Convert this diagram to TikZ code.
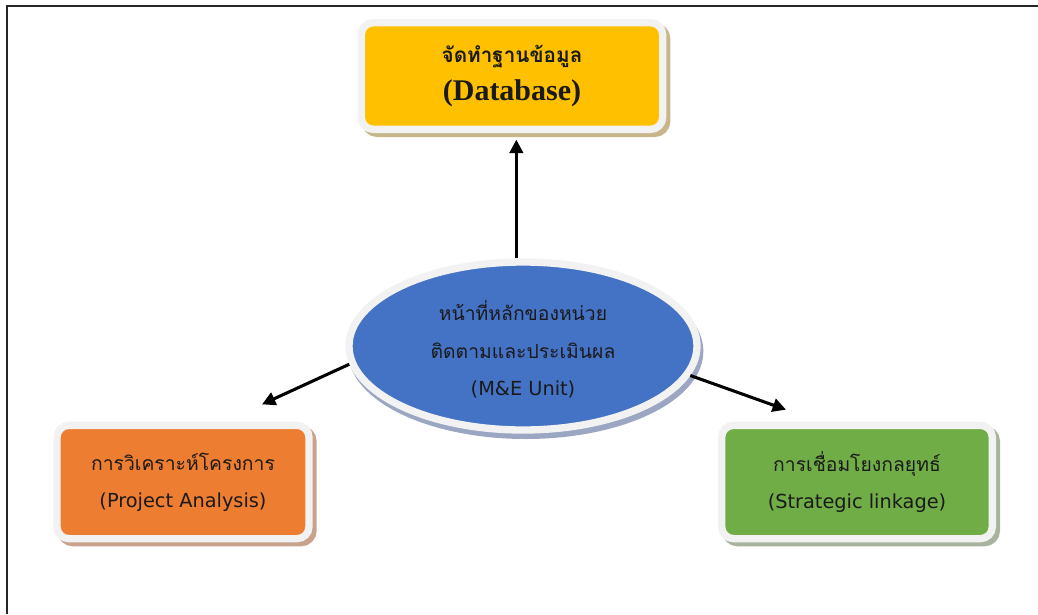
\documentclass[tikz,border=0pt]{standalone}
\usepackage{fontspec}
\setmainfont{Liberation Serif}
\newfontfamily\thaifont[Script=Thai]{Loma}
\newfontfamily\latinfont{DejaVu Sans}
\usetikzlibrary{arrows.meta,shadows,calc,shapes.geometric}
\definecolor{dbyellow}{HTML}{FFC000}
\definecolor{dbshadow}{HTML}{C6B68A}
\definecolor{meblue}{HTML}{4472C4}
\definecolor{meshadow}{HTML}{9AA6C2}
\definecolor{paorange}{HTML}{ED7D31}
\definecolor{pashadow}{HTML}{C8A28A}
\definecolor{slgreen}{HTML}{70AD47}
\definecolor{slshadow}{HTML}{A8B39E}
\definecolor{rim}{HTML}{F2F2F2}
\definecolor{ink}{HTML}{1A1A1A}

\begin{document}
\begin{tikzpicture}[x=0.75pt,y=-0.75pt,
  box/.style={draw=rim,line width=5.5pt,rounded corners=9pt,align=center,
    text=ink,font=\thaifont\fontsize{14.5}{28}\selectfont,inner sep=0pt},
  arr/.style={line width=2.3pt,-{Triangle[length=10pt,width=10pt]}}]
\useasboundingbox (0,0) rectangle (1038,614);
\draw[line width=1.6pt,black!85] (7,614) -- (7,6) -- (1038,6);

\node[box,fill=dbyellow,minimum width=226pt,minimum height=80pt,
  drop shadow={shadow xshift=3pt,shadow yshift=-3pt,fill=dbshadow,draw=dbshadow,opacity=1}]
  (db) at (512,76) {{\bfseries\fontsize{15.5}{28}\selectfont จัดทำฐานข้อมูล}\\
  {\rmfamily\bfseries\fontsize{22.5}{28}\selectfont (Database)}};

\node[box,ellipse,fill=meblue,minimum width=261pt,minimum height=126pt,
  drop shadow={shadow xshift=2pt,shadow yshift=-4pt,fill=meshadow,draw=meshadow,opacity=1}]
  (me) at (523,346) {\\[-8pt]หน้าที่หลักของหน่วย\\ติดตามและประเมินผล\\{\latinfont (M\&E Unit)}};

\node[box,fill=paorange,minimum width=189pt,minimum height=85pt,
  drop shadow={shadow xshift=3pt,shadow yshift=-3pt,fill=pashadow,draw=pashadow,opacity=1}]
  (pa) at (183,482) {การวิเคราะห์โครงการ\\{\latinfont (Project Analysis)}};

\node[box,fill=slgreen,minimum width=203pt,minimum height=85pt,
  drop shadow={shadow xshift=3pt,shadow yshift=-3pt,fill=slshadow,draw=slshadow,opacity=1}]
  (sl) at (857,482) {การเชื่อมโยงกลยุทธ์\\{\latinfont (Strategic linkage)}};

\draw[arr] ([xshift=-5pt]me.north) -- ([xshift=-5pt,yshift=-5pt]me.north |- db.south);
\draw[arr] (me.186) -- ([xshift=-38pt,yshift=13pt]pa.north east);
\draw[arr] (me.350) -- ([xshift=51pt,yshift=9pt]sl.north west);
\end{tikzpicture}
\end{document}
